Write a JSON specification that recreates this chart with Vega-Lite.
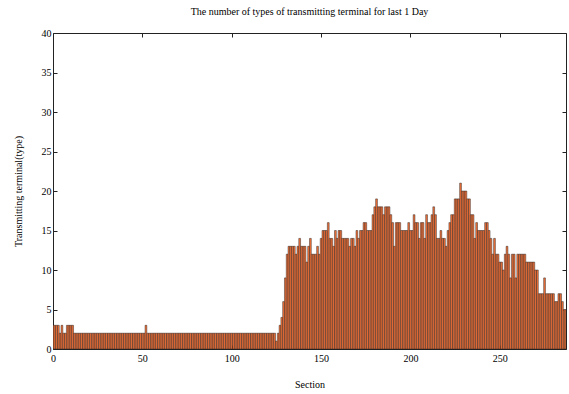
{
  "$schema": "https://vega.github.io/schema/vega-lite/v6.json",
  "autosize": {"type": "none"},
  "padding": {"left": 53, "top": 33, "right": 3, "bottom": 45},
  "width": 513,
  "height": 316,
  "background": "white",
  "config": {
    "view": {"stroke": "#222", "strokeWidth": 1},
    "font": "Liberation Serif",
    "scale": {"continuousPadding": 0},
    "axis": {"grid": false, "domain": false, "labelFlush": false, "labelFont": "Liberation Serif", "titleFont": "Liberation Serif", "labelFontSize": 10, "titleFontSize": 10, "labelColor": "#000", "titleColor": "#000", "titleFontWeight": "normal", "tickColor": "#222", "tickSize": -4}
  },
  "title": {"text": "The number of types of transmitting terminal for last 1 Day", "font": "Liberation Serif", "fontSize": 10, "fontWeight": "normal", "color": "#000", "offset": 11, "anchor": "middle"},
  "data": {"values": [
    {"s":0,"n":3},{"s":1,"n":3},{"s":2,"n":3},{"s":3,"n":3},{"s":4,"n":2},{"s":5,"n":3},{"s":6,"n":2},{"s":7,"n":2},{"s":8,"n":3},{"s":9,"n":3},
    {"s":10,"n":3},{"s":11,"n":3},{"s":12,"n":2},{"s":13,"n":2},{"s":14,"n":2},{"s":15,"n":2},{"s":16,"n":2},{"s":17,"n":2},{"s":18,"n":2},{"s":19,"n":2},
    {"s":20,"n":2},{"s":21,"n":2},{"s":22,"n":2},{"s":23,"n":2},{"s":24,"n":2},{"s":25,"n":2},{"s":26,"n":2},{"s":27,"n":2},{"s":28,"n":2},{"s":29,"n":2},
    {"s":30,"n":2},{"s":31,"n":2},{"s":32,"n":2},{"s":33,"n":2},{"s":34,"n":2},{"s":35,"n":2},{"s":36,"n":2},{"s":37,"n":2},{"s":38,"n":2},{"s":39,"n":2},
    {"s":40,"n":2},{"s":41,"n":2},{"s":42,"n":2},{"s":43,"n":2},{"s":44,"n":2},{"s":45,"n":2},{"s":46,"n":2},{"s":47,"n":2},{"s":48,"n":2},{"s":49,"n":2},
    {"s":50,"n":2},{"s":51,"n":2},{"s":52,"n":3},{"s":53,"n":2},{"s":54,"n":2},{"s":55,"n":2},{"s":56,"n":2},{"s":57,"n":2},{"s":58,"n":2},{"s":59,"n":2},
    {"s":60,"n":2},{"s":61,"n":2},{"s":62,"n":2},{"s":63,"n":2},{"s":64,"n":2},{"s":65,"n":2},{"s":66,"n":2},{"s":67,"n":2},{"s":68,"n":2},{"s":69,"n":2},
    {"s":70,"n":2},{"s":71,"n":2},{"s":72,"n":2},{"s":73,"n":2},{"s":74,"n":2},{"s":75,"n":2},{"s":76,"n":2},{"s":77,"n":2},{"s":78,"n":2},{"s":79,"n":2},
    {"s":80,"n":2},{"s":81,"n":2},{"s":82,"n":2},{"s":83,"n":2},{"s":84,"n":2},{"s":85,"n":2},{"s":86,"n":2},{"s":87,"n":2},{"s":88,"n":2},{"s":89,"n":2},
    {"s":90,"n":2},{"s":91,"n":2},{"s":92,"n":2},{"s":93,"n":2},{"s":94,"n":2},{"s":95,"n":2},{"s":96,"n":2},{"s":97,"n":2},{"s":98,"n":2},{"s":99,"n":2},
    {"s":100,"n":2},{"s":101,"n":2},{"s":102,"n":2},{"s":103,"n":2},{"s":104,"n":2},{"s":105,"n":2},{"s":106,"n":2},{"s":107,"n":2},{"s":108,"n":2},{"s":109,"n":2},
    {"s":110,"n":2},{"s":111,"n":2},{"s":112,"n":2},{"s":113,"n":2},{"s":114,"n":2},{"s":115,"n":2},{"s":116,"n":2},{"s":117,"n":2},{"s":118,"n":2},{"s":119,"n":2},
    {"s":120,"n":2},{"s":121,"n":2},{"s":122,"n":2},{"s":123,"n":2},{"s":124,"n":2},{"s":125,"n":1},{"s":126,"n":2},{"s":127,"n":3},{"s":128,"n":4},{"s":129,"n":6},
    {"s":130,"n":9},{"s":131,"n":12},{"s":132,"n":13},{"s":133,"n":13},{"s":134,"n":13},{"s":135,"n":13},{"s":136,"n":12},{"s":137,"n":13},{"s":138,"n":14},{"s":139,"n":13},
    {"s":140,"n":13},{"s":141,"n":13},{"s":142,"n":11},{"s":143,"n":13},{"s":144,"n":14},{"s":145,"n":12},{"s":146,"n":12},{"s":147,"n":12},{"s":148,"n":13},{"s":149,"n":12},
    {"s":150,"n":14},{"s":151,"n":15},{"s":152,"n":15},{"s":153,"n":15},{"s":154,"n":16},{"s":155,"n":14},{"s":156,"n":14},{"s":157,"n":13},{"s":158,"n":15},{"s":159,"n":14},
    {"s":160,"n":15},{"s":161,"n":15},{"s":162,"n":14},{"s":163,"n":14},{"s":164,"n":14},{"s":165,"n":14},{"s":166,"n":13},{"s":167,"n":14},{"s":168,"n":14},{"s":169,"n":13},
    {"s":170,"n":15},{"s":171,"n":14},{"s":172,"n":15},{"s":173,"n":15},{"s":174,"n":16},{"s":175,"n":16},{"s":176,"n":15},{"s":177,"n":15},{"s":178,"n":15},{"s":179,"n":17},
    {"s":180,"n":18},{"s":181,"n":19},{"s":182,"n":18},{"s":183,"n":18},{"s":184,"n":18},{"s":185,"n":17},{"s":186,"n":18},{"s":187,"n":18},{"s":188,"n":18},{"s":189,"n":17},
    {"s":190,"n":16},{"s":191,"n":13},{"s":192,"n":16},{"s":193,"n":16},{"s":194,"n":16},{"s":195,"n":15},{"s":196,"n":15},{"s":197,"n":15},{"s":198,"n":15},{"s":199,"n":16},
    {"s":200,"n":15},{"s":201,"n":15},{"s":202,"n":17},{"s":203,"n":16},{"s":204,"n":16},{"s":205,"n":14},{"s":206,"n":16},{"s":207,"n":16},{"s":208,"n":14},{"s":209,"n":17},
    {"s":210,"n":16},{"s":211,"n":16},{"s":212,"n":17},{"s":213,"n":18},{"s":214,"n":17},{"s":215,"n":14},{"s":216,"n":14},{"s":217,"n":15},{"s":218,"n":14},{"s":219,"n":14},
    {"s":220,"n":13},{"s":221,"n":15},{"s":222,"n":16},{"s":223,"n":17},{"s":224,"n":17},{"s":225,"n":19},{"s":226,"n":19},{"s":227,"n":19},{"s":228,"n":21},{"s":229,"n":20},
    {"s":230,"n":20},{"s":231,"n":20},{"s":232,"n":19},{"s":233,"n":19},{"s":234,"n":17},{"s":235,"n":17},{"s":236,"n":14},{"s":237,"n":16},{"s":238,"n":15},{"s":239,"n":15},
    {"s":240,"n":15},{"s":241,"n":15},{"s":242,"n":16},{"s":243,"n":16},{"s":244,"n":15},{"s":245,"n":14},{"s":246,"n":12},{"s":247,"n":14},{"s":248,"n":12},{"s":249,"n":12},
    {"s":250,"n":11},{"s":251,"n":11},{"s":252,"n":10},{"s":253,"n":12},{"s":254,"n":13},{"s":255,"n":12},{"s":256,"n":9},{"s":257,"n":12},{"s":258,"n":12},{"s":259,"n":9},
    {"s":260,"n":12},{"s":261,"n":12},{"s":262,"n":12},{"s":263,"n":12},{"s":264,"n":12},{"s":265,"n":11},{"s":266,"n":11},{"s":267,"n":11},{"s":268,"n":11},{"s":269,"n":11},
    {"s":270,"n":10},{"s":271,"n":10},{"s":272,"n":7},{"s":273,"n":7},{"s":274,"n":7},{"s":275,"n":9},{"s":276,"n":7},{"s":277,"n":7},{"s":278,"n":7},{"s":279,"n":7},
    {"s":280,"n":7},{"s":281,"n":6},{"s":282,"n":6},{"s":283,"n":7},{"s":284,"n":7},{"s":285,"n":6},{"s":286,"n":5},{"s":287,"n":5}
  ]},
  "layer": [
    {
      "mark": {"type": "bar", "width": 1.79, "fill": "#f4733a", "stroke": "#1a1a1a", "strokeWidth": 0.45, "clip": true},
      "encoding": {
        "x": {"field": "s", "type": "quantitative", "scale": {"domain": [0, 287], "nice": false, "zero": false, "padding": 0},
          "axis": {"orient": "bottom", "values": [0, 50, 100, 150, 200, 250], "title": "Section", "labelPadding": 8, "titlePadding": 16}},
        "y": {"field": "n", "type": "quantitative", "scale": {"domain": [0, 40], "nice": false},
          "axis": {"orient": "left", "values": [0, 5, 10, 15, 20, 25, 30, 35, 40], "title": "Transmitting terminal(type)", "labelPadding": 6, "titlePadding": 18}}
      }
    },
    {
      "mark": {"type": "point", "opacity": 0},
      "encoding": {
        "x": {"field": "s", "type": "quantitative", "axis": {"orient": "top", "values": [0, 50, 100, 150, 200, 250], "labels": false, "title": null}},
        "y": {"field": "n", "type": "quantitative", "axis": {"orient": "right", "values": [0, 5, 10, 15, 20, 25, 30, 35, 40], "labels": false, "title": null}}
      }
    }
  ],
  "resolve": {"axis": {"x": "independent", "y": "independent"}}
}
